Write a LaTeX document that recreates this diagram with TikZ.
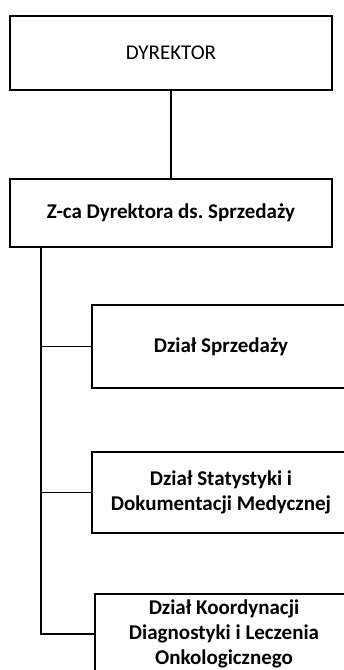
\documentclass[tikz,border=0pt]{standalone}
\usepackage{fontspec}
\setmainfont{Carlito}
\frenchspacing
\begin{document}
\begin{tikzpicture}[x=1pt,y=1pt,
  box/.style={draw=black, line width=1.9pt, rectangle, inner sep=0pt, align=center, font=\fontsize{21}{25}\selectfont},
  bbox/.style={box, font=\fontsize{21}{25}\selectfont\bfseries},
  lnk/.style={draw=black, line width=1.9pt}]
\clip (0,0) rectangle (344,670);
\useasboundingbox (0,0) rectangle (344,670);
\node[box, minimum width=322pt, minimum height=74pt] (dyr) at (171,617) {DYREKTOR};
\node[bbox, minimum width=322pt, minimum height=68pt] (zca) at (171,457) {Z-ca Dyrektora ds.\ Sprzedaży};
\node[bbox, minimum width=258pt, minimum height=83pt] (sprz) at (221,323.5) {Dział Sprzedaży};
\node[bbox, minimum width=258pt, minimum height=81pt] (stat) at (221,177.5) {Dział Statystyki i\\Dokumentacji Medycznej};
\node[bbox, minimum width=258pt, minimum height=80pt] (onko) at (224,36) {Dział Koordynacji\\Diagnostyki i Leczenia\\Onkologicznego};
\coordinate (t) at ([xshift=32pt]zca.south west);
\draw[lnk] (dyr.south) -- (zca.north);
\draw[lnk] (t) |- (onko.west);
\draw[lnk] (t |- sprz.west) -- (sprz.west);
\draw[lnk] (t |- stat.west) -- (stat.west);
\end{tikzpicture}
\end{document}
